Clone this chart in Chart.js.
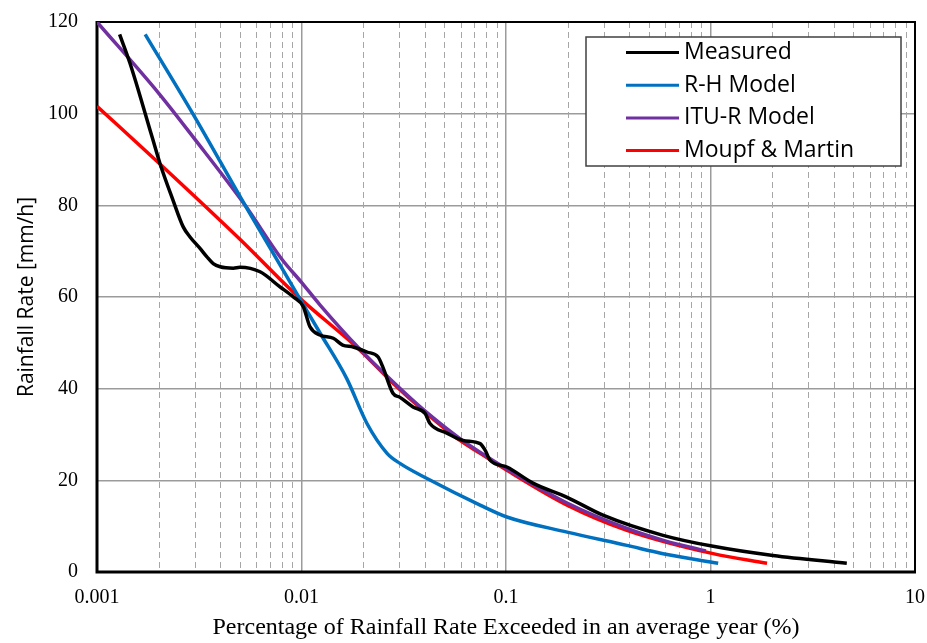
<!DOCTYPE html>
<html>
<head>
<meta charset="utf-8">
<script src="https://cdn.jsdelivr.net/npm/chart.js@4.4.1/dist/chart.umd.min.js"></script>
<style>
html, body { margin: 0; padding: 0; background: #fff; }
</style>
</head>
<body>
<canvas id="rain" width="927" height="643"></canvas>
<script>
// values (x = % of time, y = mm/h)
var measured_x = [0.00129, 0.00145, 0.00186, 0.00203, 0.00235, 0.00264, 0.00285, 0.00319, 0.00344, 0.0037, 0.004, 0.00464, 0.005, 0.00627, 0.00785, 0.00912, 0.0102, 0.011, 0.0123, 0.0143, 0.0159, 0.0179, 0.0209, 0.0237, 0.025, 0.028, 0.0303, 0.0351, 0.0402, 0.0425, 0.0514, 0.0616, 0.0747, 0.079, 0.0836, 0.101, 0.1355, 0.199, 0.298, 0.586, 1.03, 2.02, 4.64];
var measured_y = [117.3, 111.0, 94.9, 89.2, 81.2, 75.3, 73.1, 70.6, 68.8, 67.3, 66.6, 66.3, 66.5, 65.5, 62.2, 60.0, 57.9, 53.5, 51.7, 51.0, 49.5, 49.1, 48.0, 46.9, 44.7, 39.0, 38.1, 36.0, 34.6, 32.4, 30.3, 28.7, 28.0, 26.6, 24.4, 22.9, 19.4, 16.3, 12.4, 8.0, 5.6, 3.6, 1.9];

var rh_x = [0.00172, 0.00294, 0.0053, 0.00785, 0.0095, 0.0123, 0.0166, 0.0209, 0.0262, 0.0303, 0.0411, 0.0747, 0.101, 0.199, 0.39, 0.586, 1.09];
var rh_y = [117.3, 100.0, 80.0, 67.0, 60.7, 52.2, 42.3, 32.4, 25.9, 23.7, 20.4, 14.6, 12.0, 8.7, 5.8, 4.0, 1.9];

var itu_x = [0.001, 0.002, 0.003, 0.0053, 0.008, 0.01, 0.0123, 0.0193, 0.028, 0.04, 0.06, 0.1, 0.2, 0.39, 0.6, 0.95];
var itu_y = [120.0, 104.5, 94.5, 80.0, 68.3, 63.2, 58.3, 48.6, 41.5, 35.2, 29.0, 22.6, 15.0, 9.5, 6.8, 4.6];

var mm_x = [0.001, 0.002, 0.005, 0.0095, 0.0193, 0.028, 0.0402, 0.0595, 0.0747, 0.101, 0.199, 0.39, 1.03, 1.89];
var mm_y = [101.6, 89.3, 72.6, 60.3, 48.4, 41.2, 34.9, 28.7, 25.9, 22.2, 14.6, 9.1, 4.0, 1.9];

var series_names = ["Measured", "R-H Model", "ITU-R Model", "Moupf & Martin"];
var series_colors = ["#000000", "#0070C0", "#7030A0", "#FF0000"];

var x_ticks = [0.001, 0.01, 0.1, 1, 10];
var x_tick_labels = ["0.001", "0.01", "0.1", "1", "10"];
var y_ticks = [0, 20, 40, 60, 80, 100, 120];

function pts(xs, ys) {
    return xs.map(function (x, i) { return { x: x, y: ys[i] }; });
}

// minor (2..9) positions of each decade, drawn dashed
var x_minor = [];
x_ticks.slice(0, -1).forEach(function (d) {
    for (var k = 2; k <= 9; k++) x_minor.push(d * k);
});

var framePlugin = {
    id: "frame",
    beforeDatasetsDraw: function (chart) {
        var ctx = chart.ctx, a = chart.chartArea, xs = chart.scales.x;
        ctx.save();
        ctx.strokeStyle = "#a6a6a6";
        ctx.lineWidth = 1;
        ctx.setLineDash([6, 4]);
        x_minor.forEach(function (v) {
            var px = Math.round(xs.getPixelForValue(v)) + 0.5;
            ctx.beginPath();
            ctx.moveTo(px, a.top);
            ctx.lineTo(px, a.bottom);
            ctx.stroke();
        });
        ctx.setLineDash([]);
        ctx.strokeStyle = "#000";
        ctx.lineWidth = 2;
        ctx.beginPath();
        ctx.moveTo(a.left, a.top);
        ctx.lineTo(a.right, a.top);
        ctx.lineTo(a.right, a.bottom);
        ctx.stroke();
        ctx.lineWidth = 3;
        ctx.beginPath();
        ctx.moveTo(a.left, a.top - 1);
        ctx.lineTo(a.left, a.bottom);
        ctx.lineTo(a.right + 1, a.bottom);
        ctx.stroke();
        ctx.restore();
    }
};

var legendPlugin = {
    id: "boxLegend",
    afterDraw: function (chart) {
        var ctx = chart.ctx, a = chart.chartArea;
        var left = a.right - 329, top = a.top + 15, w = 315, h = 129;
        ctx.save();
        ctx.fillStyle = "#fff";
        ctx.fillRect(left, top, w, h);
        ctx.strokeStyle = "#404040";
        ctx.lineWidth = 1.5;
        ctx.strokeRect(left, top, w, h);
        ctx.font = "23px 'Open Sans'";
        ctx.textBaseline = "middle";
        chart.data.datasets.forEach(function (ds, i) {
            var cy = top + 15.5 + i * 32.7;
            ctx.strokeStyle = ds.borderColor;
            ctx.lineWidth = 3;
            ctx.beginPath();
            ctx.moveTo(left + 40, cy);
            ctx.lineTo(left + 93, cy);
            ctx.stroke();
            ctx.fillStyle = "#000";
            ctx.fillText(ds.label, left + 98, cy);
        });
        ctx.restore();
    }
};

var all_x = [measured_x, rh_x, itu_x, mm_x];
var all_y = [measured_y, rh_y, itu_y, mm_y];
var datasets = series_names.map(function (name, i) {
    return {
        label: name,
        data: pts(all_x[i], all_y[i]),
        borderColor: series_colors[i],
        backgroundColor: series_colors[i],
        borderWidth: 3.5,
        pointRadius: 0,
        fill: false,
        cubicInterpolationMode: "monotone"
    };
});
// measured drawn last so it sits on top
datasets[0].order = -1;

var chart = new Chart(document.getElementById("rain").getContext("2d"), {
    type: "line",
    data: { datasets: datasets },
    plugins: [framePlugin, legendPlugin],
    options: {
        responsive: false,
        animation: false,
        layout: { padding: { top: 22, right: 12, left: 0, bottom: 0 } },
        plugins: { legend: { display: false }, tooltip: { enabled: false } },
        scales: {
            x: {
                type: "logarithmic",
                min: 0.001,
                max: 10,
                afterBuildTicks: function (s) {
                    s.ticks = x_ticks.map(function (v) { return { value: v }; });
                },
                afterFit: function (s) {
                    s.height = 71;
                    s.paddingLeft = 0;
                    s.paddingRight = 0;
                },
                ticks: {
                    autoSkip: false,
                    maxRotation: 0,
                    padding: 14,
                    color: "#000",
                    font: { family: "'Liberation Serif'", size: 20 },
                    callback: function (v, i) { return x_tick_labels[i]; }
                },
                grid: { color: "#9b9b9b", lineWidth: 1.5, drawTicks: false },
                border: { display: false },
                title: {
                    display: true,
                    text: "Percentage of Rainfall Rate Exceeded in an average year (%)",
                    color: "#000",
                    font: { family: "'Liberation Serif'", size: 24 },
                    padding: { top: 0, bottom: 1 }
                }
            },
            y: {
                min: 0,
                max: 120,
                afterBuildTicks: function (s) {
                    s.ticks = y_ticks.map(function (v) { return { value: v }; });
                },
                afterFit: function (s) {
                    s.width = 97;
                    s.paddingTop = 0;
                    s.paddingBottom = 0;
                },
                ticks: {
                    padding: 19,
                    color: "#000",
                    font: { family: "'Liberation Serif'", size: 20 }
                },
                grid: { color: "#9b9b9b", lineWidth: 1.5, drawTicks: false },
                border: { display: false },
                title: {
                    display: true,
                    text: "Rainfall Rate [mm/h]",
                    color: "#000",
                    font: { family: "'Open Sans'", size: 21 },
                    padding: { top: 14, bottom: 0 }
                }
            }
        }
    }
});
</script>
</body>
</html>
